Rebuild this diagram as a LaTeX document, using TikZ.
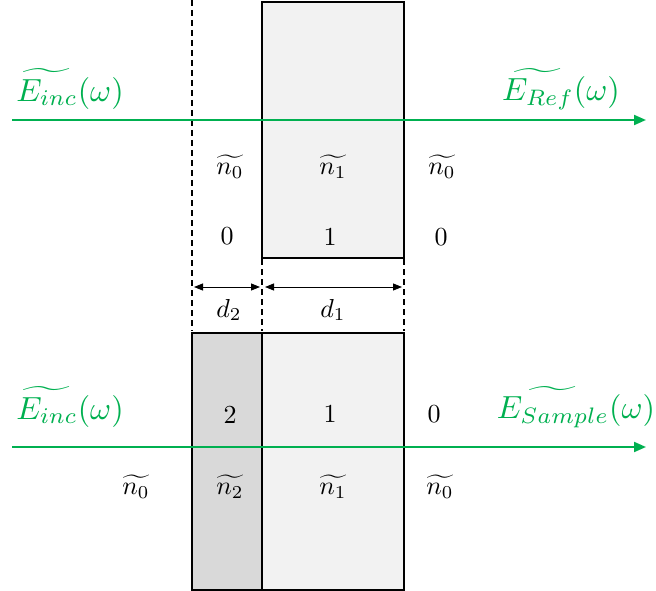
\documentclass[tikz,border=0pt]{standalone}
\usepackage{amsmath}
\usetikzlibrary{arrows.meta}
\definecolor{wavegreen}{RGB}{0,176,80}
\definecolor{lightfill}{RGB}{242,242,242}
\definecolor{darkfill}{RGB}{217,217,217}
\tikzset{
  slab/.style={draw=black, line width=1.3pt},
  guide/.style={draw=black, line width=1.1pt, dash pattern=on 6pt off 4pt},
  wave/.style={draw=wavegreen, line width=2pt, -{Triangle[length=12pt,width=10pt]}},
  dim/.style={draw=black, line width=0.9pt, {Triangle[length=9pt,width=7pt]}-{Triangle[length=9pt,width=7pt]}},
  lbl/.style={scale=2.6, inner sep=0pt},
  glbl/.style={scale=3.2, text=wavegreen, inner sep=0pt}
}
\begin{document}
\begin{tikzpicture}[x=1pt,y=-1pt]
\useasboundingbox (0,0) rectangle (656,591);
% top slab
\filldraw[slab, fill=lightfill] (262,2) rectangle (404,258);
% bottom slabs
\filldraw[slab, fill=darkfill] (192,333) rectangle (262,590);
\filldraw[slab, fill=lightfill] (262,333) rectangle (404,590);
% guides
\coordinate (g0t) at (192,0);
\coordinate (g0b) at (192,331);
\coordinate (g1t) at (262,259);
\coordinate (g1b) at (262,331);
\coordinate (g2t) at (404,259);
\coordinate (g2b) at (404,331);
\draw[guide] (g0t) -- (g0b);
\draw[guide] (g1t) -- (g1b);
\draw[guide] (g2t) -- (g2b);
% dimension arrows
\coordinate (d2a) at (194,287);
\coordinate (d2b) at (260,287);
\coordinate (d1a) at (265,287);
\coordinate (d1b) at (402,287);
\draw[dim] (d2a) -- (d2b);
\draw[dim] (d1a) -- (d1b);
\node[lbl] (d2) at (229,310) {$d_2$};
\node[lbl] (d1) at (333,310) {$d_1$};
% waves
\coordinate (w1s) at (12,120);
\coordinate (w1e) at (646,120);
\coordinate (w2s) at (12,447);
\coordinate (w2e) at (646,447);
\draw[wave] (w1s) -- (w1e);
\draw[wave] (w2s) -- (w2e);
\node[glbl] (einc1) at (70,89) {$\widetilde{E_{inc}}(\omega)$};
\node[glbl] (eref) at (561,89) {$\widetilde{E_{Ref}}(\omega)$};
\node[glbl] (einc2) at (70,407) {$\widetilde{E_{inc}}(\omega)$};
\node[glbl] (esam) at (576,407) {$\widetilde{E_{Sample}}(\omega)$};
% top labels
\node[lbl] (n0a) at (230,167) {$\widetilde{n_0}$};
\node[lbl] (n1a) at (333,167) {$\widetilde{n_1}$};
\node[lbl] (n0b) at (442,167) {$\widetilde{n_0}$};
\node[lbl] (z0a) at (227,236) {$0$};
\node[lbl] (z1a) at (330,237) {$1$};
\node[lbl] (z0b) at (441,237) {$0$};
% bottom labels
\node[lbl] (b2) at (230,415) {$2$};
\node[lbl] (b1) at (330,414) {$1$};
\node[lbl] (b0) at (434,414) {$0$};
\node[lbl] (m0a) at (136,487) {$\widetilde{n_0}$};
\node[lbl] (m2) at (230,487) {$\widetilde{n_2}$};
\node[lbl] (m1) at (333,487) {$\widetilde{n_1}$};
\node[lbl] (m0b) at (440,487) {$\widetilde{n_0}$};
\end{tikzpicture}
\end{document}
